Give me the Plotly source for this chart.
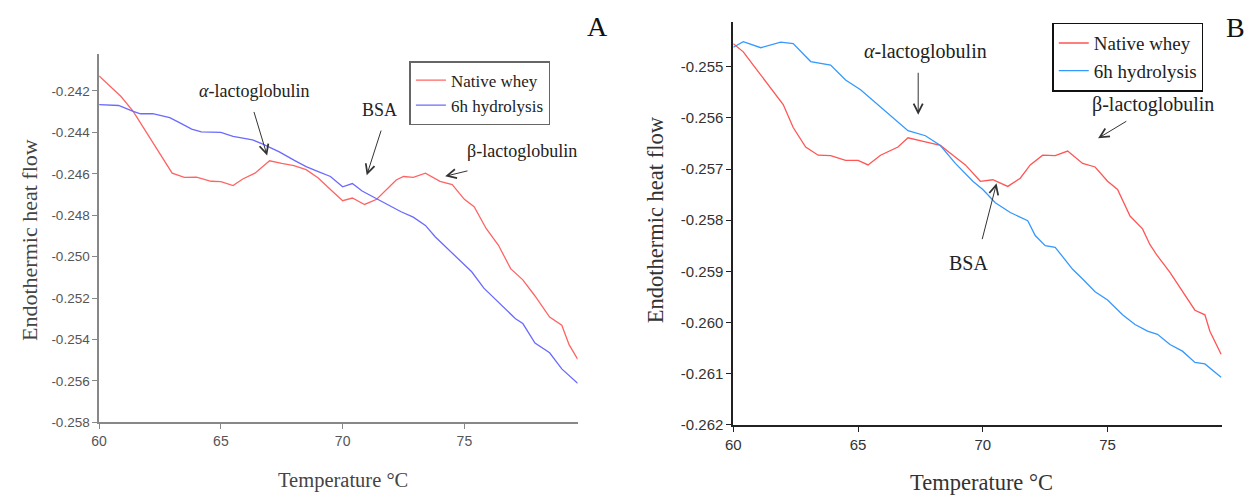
import plotly.graph_objects as go

# ---------------- Panel A data ----------------
temp_a_native = [60.0, 60.9, 61.4, 61.9, 62.5, 63.0, 63.5, 64.0, 64.6, 65.0, 65.5, 65.9, 66.4, 67.0,
                 67.5, 68.0, 68.5, 69.0, 69.5, 70.0, 70.4, 70.9, 71.4, 71.8, 72.2, 72.5, 72.9, 73.4,
                 74.0, 74.5, 75.0, 75.4, 75.9, 76.4, 76.9, 77.4, 77.9, 78.5, 79.0, 79.3, 79.65]
native_a = [-0.24128, -0.24227, -0.24298, -0.24392, -0.24500, -0.24597, -0.24617, -0.24616, -0.24636,
            -0.24638, -0.24657, -0.24625, -0.24597, -0.24537, -0.24550, -0.24560, -0.24580, -0.24620,
            -0.24676, -0.24730, -0.24717, -0.24748, -0.24723, -0.24676, -0.24630, -0.24613, -0.24617,
            -0.24597, -0.24636, -0.24652, -0.24723, -0.24759, -0.24865, -0.24945, -0.25058, -0.25112,
            -0.25190, -0.25292, -0.25331, -0.25425, -0.25495]

temp_a_hydro = [60.0, 60.8, 61.4, 61.7, 62.2, 62.9, 63.3, 63.8, 64.2, 65.0, 65.5, 66.3, 66.7, 67.4,
                68.0, 68.5, 69.0, 69.5, 70.0, 70.4, 70.8, 71.3, 71.7, 72.4, 72.9, 73.4, 73.8, 74.2,
                74.8, 75.3, 75.8, 76.3, 77.1, 77.4, 77.9, 78.5, 79.0, 79.65]
hydro_a = [-0.24266, -0.24270, -0.24298, -0.24310, -0.24309, -0.24329, -0.24353, -0.24384, -0.24397,
           -0.24400, -0.24419, -0.24436, -0.24455, -0.24494, -0.24534, -0.24565, -0.24589, -0.24613,
           -0.24663, -0.24647, -0.24683, -0.24715, -0.24739, -0.24783, -0.24809, -0.24849, -0.24904,
           -0.24950, -0.25019, -0.25073, -0.25152, -0.25210, -0.25300, -0.25323, -0.25417, -0.25464,
           -0.25542, -0.25612]

# ---------------- Panel B data ----------------
temp_b_native = [60.0, 60.4, 60.8, 61.3, 62.0, 62.4, 62.9, 63.4, 63.9, 64.5, 65.0, 65.4, 65.9, 66.6,
                 67.0, 67.7, 68.3, 68.8, 69.3, 69.9, 70.4, 71.0, 71.5, 71.9, 72.4, 72.9, 73.4, 74.0,
                 74.5, 75.0, 75.4, 75.9, 76.4, 76.7, 77.0, 77.5, 78.0, 78.5, 78.9, 79.1, 79.55]
native_b = [-0.25455, -0.25471, -0.25497, -0.25529, -0.25574, -0.25619, -0.25657, -0.25673, -0.25674,
            -0.25683, -0.25683, -0.25692, -0.25673, -0.25657, -0.25639, -0.25647, -0.25654, -0.25673,
            -0.25692, -0.25724, -0.25721, -0.25734, -0.25718, -0.25692, -0.25673, -0.25674, -0.25665,
            -0.25689, -0.25696, -0.25724, -0.25740, -0.25792, -0.25817, -0.25848, -0.25870, -0.25902,
            -0.25940, -0.25976, -0.25985, -0.26017, -0.26062]

temp_b_hydro = [60.0, 60.4, 61.1, 61.9, 62.4, 63.1, 63.9, 64.5, 65.1, 65.8, 66.4, 67.0, 67.7, 68.3,
                68.9, 69.6, 70.0, 70.5, 71.1, 71.8, 72.1, 72.5, 72.9, 73.6, 74.0, 74.5, 75.0, 75.6,
                76.1, 76.6, 77.0, 77.5, 78.0, 78.5, 78.9, 79.55]
hydro_b = [-0.25462, -0.25451, -0.25463, -0.25452, -0.25455, -0.25490, -0.25497, -0.25526, -0.25545,
           -0.25574, -0.25600, -0.25625, -0.25635, -0.25654, -0.25689, -0.25724, -0.25740, -0.25766,
           -0.25785, -0.25801, -0.25830, -0.25850, -0.25853, -0.25896, -0.25915, -0.25940, -0.25956,
           -0.25985, -0.26004, -0.26017, -0.26023, -0.26043, -0.26056, -0.26078, -0.26081, -0.26107]

# ---------------- tick labels ----------------
x_ticks = [60, 65, 70, 75]
y_ticks_a = [-0.242, -0.244, -0.246, -0.248, -0.250, -0.252, -0.254, -0.256, -0.258]
y_ticks_b = [-0.255, -0.256, -0.257, -0.258, -0.259, -0.260, -0.261, -0.262]

series_names = ["Native whey", "6h hydrolysis"]

SERIF = "Liberation Serif, Times New Roman, serif"
SANS = "Liberation Sans, Arial, sans-serif"

fig = go.Figure()
fig.add_trace(go.Scatter(x=temp_a_native, y=native_a, mode="lines", name=series_names[0],
                         line=dict(color="#ff6464", width=1.3), xaxis="x", yaxis="y", legend="legend"))
fig.add_trace(go.Scatter(x=temp_a_hydro, y=hydro_a, mode="lines", name=series_names[1],
                         line=dict(color="#6a6aff", width=1.3), xaxis="x", yaxis="y", legend="legend"))
fig.add_trace(go.Scatter(x=temp_b_native, y=native_b, mode="lines", name=series_names[0],
                         line=dict(color="#ff5555", width=1.3), xaxis="x2", yaxis="y2", legend="legend2"))
fig.add_trace(go.Scatter(x=temp_b_hydro, y=hydro_b, mode="lines", name=series_names[1],
                         line=dict(color="#3399ff", width=1.3), xaxis="x2", yaxis="y2", legend="legend2"))

W, H = 1246, 500

axis_common = dict(showgrid=False, zeroline=False, showline=True, ticks="outside", ticklen=5)

fig.update_layout(
    width=W, height=H,
    margin=dict(l=0, r=0, t=0, b=0),
    paper_bgcolor="white", plot_bgcolor="white",
    xaxis=dict(domain=[91.7 / W, 573.3 / W], range=[60, 79.65], tickvals=x_ticks,
               ticktext=[str(v) for v in x_ticks], linecolor="#888", linewidth=1.5, tickcolor="#888",
               tickfont=dict(family=SANS, size=14, color="#555"), anchor="y", **axis_common),
    yaxis=dict(domain=[1 - 429.3 / H, 1 - 55 / H], range=[-0.258005, -0.24022], tickvals=y_ticks_a,
               ticktext=[f"{v:.3f}" for v in y_ticks_a], linecolor="#888", linewidth=1.5, tickcolor="#888",
               tickfont=dict(family=SANS, size=13.5, color="#555"), anchor="x", **axis_common),
    xaxis2=dict(domain=[730 / W, 1221.7 / W], range=[60, 79.58], tickvals=x_ticks,
                ticktext=[str(v) for v in x_ticks], linecolor="#222", linewidth=1.8, tickcolor="#222",
                tickfont=dict(family=SANS, size=15, color="#333"), anchor="y2", **axis_common),
    yaxis2=dict(domain=[1 - 432 / H, 1 - 22 / H], range=[-0.262005, -0.25412], tickvals=y_ticks_b,
                ticktext=[f"{v:.3f}" for v in y_ticks_b], linecolor="#222", linewidth=1.8, tickcolor="#222",
                tickfont=dict(family=SANS, size=15, color="#333"), anchor="x2", **axis_common),
    legend=dict(x=404 / W, y=1 - 62 / H, xanchor="left", yanchor="top",
                bordercolor="#666", borderwidth=1.5, bgcolor="white",
                font=dict(family=SERIF, size=17, color="#222"), tracegroupgap=0),
    legend2=dict(x=1051 / W, y=1 - 23 / H, xanchor="left", yanchor="top",
                 bordercolor="#111", borderwidth=1.5, bgcolor="white",
                 font=dict(family=SERIF, size=19, color="#222"), tracegroupgap=0),
    showlegend=True,
)

ann = []


def paper_text(text, px, py, size, color, angle=0):
    return dict(text=text, x=px / W, y=1 - py / H, xref="paper", yref="paper",
                xanchor="center", yanchor="middle", textangle=angle, showarrow=False,
                font=dict(family=SERIF, size=size, color=color))


# axis titles & panel letters (positions in pixels of the 1246x500 canvas)
ann.append(paper_text("Endothermic heat flow", 21, 244, 22, "#444", -90))
ann.append(paper_text("Endothermic heat flow", 652, 223, 22.5, "#333", -90))
ann.append(paper_text("Temperature °C", 337, 488, 20.5, "#444"))
ann.append(paper_text("Temperature °C", 980, 490, 22.5, "#333"))
ann.append(paper_text("A", 593, 27, 28, "#111"))
ann.append(paper_text("B", 1235, 28, 28, "#111"))

# peak labels: (text, x, y)
labels_a = [("<i>α</i>-lactoglobulin", 66.38, -0.24199), ("BSA", 71.52, -0.24294), ("β-lactoglobulin", 77.35, -0.24489)]
labels_b = [("<i>α</i>-lactoglobulin", 67.69, -0.25471), ("β-lactoglobulin", 76.81, -0.25573), ("BSA", 69.44, -0.25884)]
for t, x, y in labels_a:
    ann.append(dict(text=t, x=x, y=y, xref="x", yref="y", xanchor="center", yanchor="middle",
                    showarrow=False, font=dict(family=SERIF, size=18, color="#222")))
for t, x, y in labels_b:
    ann.append(dict(text=t, x=x, y=y, xref="x2", yref="y2", xanchor="center", yanchor="middle",
                    showarrow=False, font=dict(family=SERIF, size=20, color="#222")))

# arrows: (head x, head y, tail x, tail y)
arrows_a = [(66.9, -0.24512, 66.34, -0.24294), (70.99, -0.24607, 71.6, -0.24384), (74.21, -0.24612, 75.19, -0.24584)]
arrows_b = [(67.41, -0.25594, 67.41, -0.25509), (74.62, -0.25640, 75.81, -0.25605), (70.55, -0.25728, 69.96, -0.2584)]
for (hx, hy, tx, ty) in arrows_a:
    ann.append(dict(text="", x=hx, y=hy, ax=tx, ay=ty, xref="x", yref="y", axref="x", ayref="y",
                    showarrow=True, arrowhead=5, arrowsize=1.8, arrowwidth=1, arrowcolor="#333", standoff=0))
for (hx, hy, tx, ty) in arrows_b:
    ann.append(dict(text="", x=hx, y=hy, ax=tx, ay=ty, xref="x2", yref="y2", axref="x2", ayref="y2",
                    showarrow=True, arrowhead=5, arrowsize=1.8, arrowwidth=1, arrowcolor="#333", standoff=0))

fig.update_layout(annotations=ann)
fig.write_html("out.html", config={"displayModeBar": False},
               post_script="document.body.style.margin='0';document.body.style.overflow='hidden';")
